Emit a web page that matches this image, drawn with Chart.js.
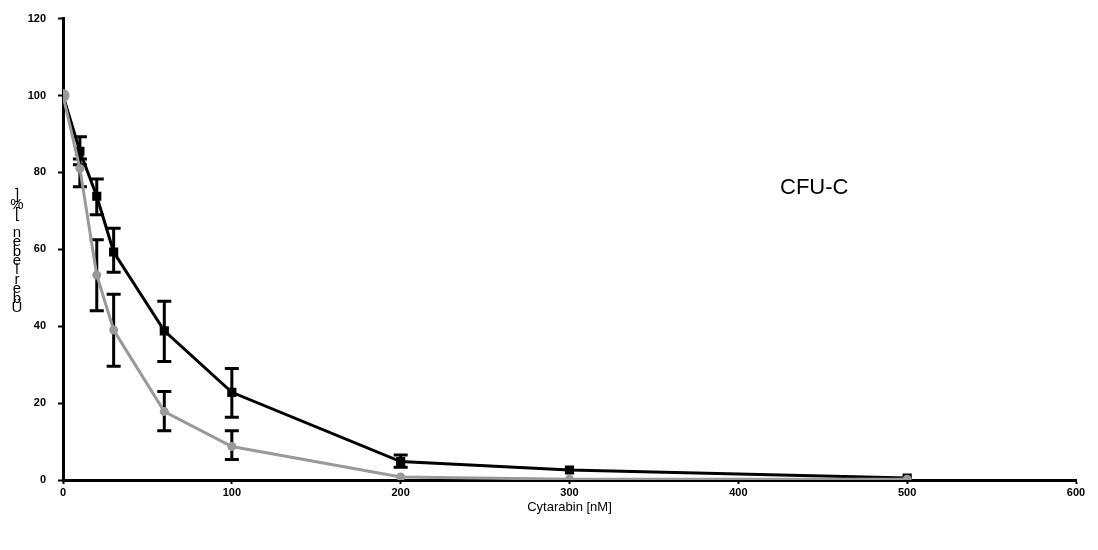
<!DOCTYPE html>
<html>
<head>
<meta charset="utf-8">
<script src="https://cdn.jsdelivr.net/npm/chart.js@4.4.0/dist/chart.umd.min.js"></script>
<style>
  html, body { margin: 0; padding: 0; background: #fff; }
  #wrap { width: 1098px; height: 550px; position: relative; }
</style>
</head>
<body>
<div id="wrap"><canvas id="chart" width="1098" height="550"></canvas></div>
<script>
// Data
const doses = [0, 10, 20, 30, 60, 100, 200, 300, 500];
const blackMean = [100, 85.5, 73.8, 59.3, 38.8, 22.8, 4.8, 2.6, 0.5];
const blackLow  = [null, 82, 69, 54, 30.8, 16.3, 3.3, null, null];
const blackHigh = [null, 89.3, 78.3, 65.5, 46.5, 29, 6.5, null, null];
const grayMean  = [100, 81, 53.3, 39, 17.8, 8.7, 0.8, 0.2, 0.2];
const grayLow   = [null, 76.3, 44, 29.6, 12.8, 5.3, null, null, null];
const grayHigh  = [null, 83.5, 62.5, 48.3, 23, 12.8, null, null, null];
const xTicks = [0, 100, 200, 300, 400, 500, 600];
const yTicks = [0, 20, 40, 60, 80, 100, 120];
const yTitle = 'Überleben [%]';
const xTitle = 'Cytarabin [nM]';
const note = 'CFU-C';

function toPoints(ys) {
    return doses.map((x, i) => ({ x: x, y: ys[i] }));
}

// Error bars, drawn through the chart scales
const errorBars = {
    id: 'errorBars',
    beforeDatasetsDraw(chart) {
        const ctx = chart.ctx;
        const xs = chart.scales.x, ys = chart.scales.y;
        const sets = [[blackLow, blackHigh], [grayLow, grayHigh]];
        ctx.save();
        ctx.strokeStyle = '#000';
        ctx.lineWidth = 3;
        sets.forEach(([lo, hi]) => {
            doses.forEach((d, i) => {
                if (lo[i] == null) return;
                const px = xs.getPixelForValue(d);
                const y1 = ys.getPixelForValue(lo[i]);
                const y2 = ys.getPixelForValue(hi[i]);
                ctx.beginPath();
                ctx.moveTo(px, y1); ctx.lineTo(px, y2);
                ctx.moveTo(px - 7, y1); ctx.lineTo(px + 7, y1);
                ctx.moveTo(px - 7, y2); ctx.lineTo(px + 7, y2);
                ctx.stroke();
            });
        });
        ctx.restore();
    }
};

// Stacked y title and in-plot label
const labels = {
    id: 'labels',
    afterDraw(chart) {
        const ctx = chart.ctx;
        ctx.save();
        ctx.fillStyle = '#000';
        ctx.font = '15px "Liberation Sans", Arial, sans-serif';
        ctx.textAlign = 'center';
        ctx.textBaseline = 'alphabetic';
        const chars = Array.from(yTitle);
        let y = 312;
        chars.forEach(c => {
            ctx.fillText(c, 17, y);
            y -= 9.4;
        });
        ctx.font = '22px "Liberation Sans", Arial, sans-serif';
        ctx.textAlign = 'left';
        ctx.fillText(note, 780, 194);
        ctx.restore();
    }
};

new Chart(document.getElementById('chart'), {
    type: 'line',
    data: {
        datasets: [{
            label: 'black',
            data: toPoints(blackMean),
            borderColor: '#000',
            backgroundColor: '#000',
            borderWidth: 3,
            pointStyle: 'rect',
            pointRadius: 6.5,
            pointBorderWidth: 0,
            tension: 0,
            order: 2
        }, {
            label: 'gray',
            data: toPoints(grayMean),
            borderColor: '#999',
            backgroundColor: '#999',
            borderWidth: 3,
            pointStyle: 'circle',
            pointRadius: doses.map(d => d === 0 ? 6.5 : 4.5),
            pointBorderWidth: 0,
            tension: 0,
            order: 1
        }]
    },
    options: {
        responsive: false,
        animation: false,
        layout: { padding: { top: 14, right: 22, left: 0, bottom: 35 } },
        plugins: {
            legend: { display: false },
            tooltip: { enabled: false }
        },
        scales: {
            x: {
                type: 'linear',
                min: 0,
                max: 600,
                afterBuildTicks: axis => { axis.ticks = xTicks.map(v => ({ value: v })); },
                afterFit: axis => { axis.height = 35; },
                border: { color: '#000', width: 3 },
                grid: { drawOnChartArea: false, tickLength: 4, tickColor: '#000', tickWidth: 2 },
                ticks: {
                    color: '#000',
                    padding: 2,
                    maxRotation: 0,
                    font: { family: '"Liberation Sans", Arial, sans-serif', size: 11, weight: 'bold' }
                },
                title: {
                    display: true,
                    text: xTitle,
                    color: '#000',
                    padding: { top: 2, bottom: 0 },
                    font: { family: '"Liberation Sans", Arial, sans-serif', size: 13 }
                }
            },
            y: {
                min: 0,
                max: 120,
                afterBuildTicks: axis => { axis.ticks = yTicks.map(v => ({ value: v })); },
                afterFit: axis => { axis.width = 63; },
                border: { color: '#000', width: 3 },
                grid: { drawOnChartArea: false, tickLength: 5, tickColor: '#000', tickWidth: 2 },
                ticks: {
                    color: '#000',
                    padding: 12,
                    font: { family: '"Liberation Sans", Arial, sans-serif', size: 11, weight: 'bold' }
                }
            }
        }
    },
    plugins: [errorBars, labels]
});
</script>
</body>
</html>
